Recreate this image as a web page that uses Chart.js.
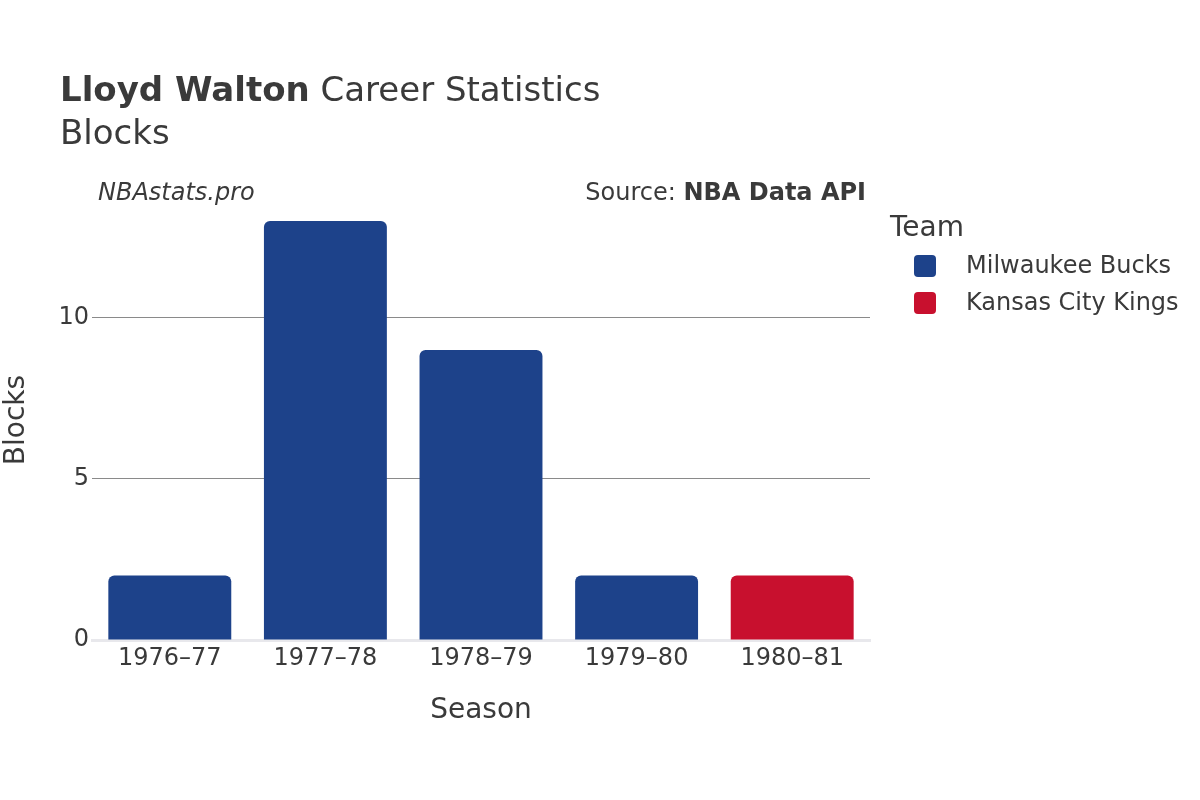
<!DOCTYPE html>
<html>
<head>
<meta charset="utf-8">
<script src="https://cdn.jsdelivr.net/npm/chart.js@4/dist/chart.umd.min.js"></script>
<style>
  html, body { margin: 0; padding: 0; background: #fff; }
  #wrap { width: 1200px; height: 800px; }
</style>
</head>
<body>
<div id="wrap"><canvas id="blocksChart" width="1200" height="800"></canvas></div>
<script>
// Данные графика
const seasons = ['1976–77', '1977–78', '1978–79', '1979–80', '1980–81'];
const teams = ['Milwaukee Bucks', 'Kansas City Kings'];
const bucksBlocks = [2, 13, 9, 2, null];
const kingsBlocks = [null, null, null, null, 2];
const teamColors = ['#1d428a', '#c8102e'];
const yTicks = [0, 5, 10];

const FONT = "'DejaVu Sans', sans-serif";
const TEXT = '#3a3a3a';

// Заголовки, подписи и легенда
const decorPlugin = {
    id: 'decor',
    afterDraw(chart) {
        const ctx = chart.ctx;
        ctx.save();
        ctx.fillStyle = TEXT;
        ctx.textBaseline = 'alphabetic';
        ctx.textAlign = 'left';

        ctx.font = `bold 34px ${FONT}`;
        const bold = 'Lloyd Walton';
        ctx.fillText(bold, 60, 101);
        const w = ctx.measureText(bold).width;
        ctx.font = `34px ${FONT}`;
        ctx.fillText(' Career Statistics', 60 + w, 101);
        ctx.fillText('Blocks', 60, 144);

        ctx.font = `italic 24px ${FONT}`;
        ctx.fillText('NBAstats.pro', 98, 200);

        ctx.textAlign = 'right';
        ctx.font = `bold 24px ${FONT}`;
        const src = 'NBA Data API';
        ctx.fillText(src, 866, 200);
        const sw = ctx.measureText(src).width;
        ctx.font = `24px ${FONT}`;
        ctx.fillText('Source: ', 866 - sw, 200);

        // легенда
        ctx.textAlign = 'left';
        ctx.font = `28px ${FONT}`;
        ctx.fillText('Team', 890, 236);
        ctx.font = `24px ${FONT}`;
        chart.data.datasets.forEach((ds, i) => {
            const cy = 266 + i * 37;
            ctx.fillStyle = ds.backgroundColor;
            ctx.beginPath();
            ctx.roundRect(914, cy - 11, 22, 22, 4);
            ctx.fill();
            ctx.fillStyle = TEXT;
            ctx.textBaseline = 'middle';
            ctx.fillText(ds.label, 966, cy + 1);
        });
        ctx.restore();
    }
};

const makeDataset = (label, data, color) => ({
    label: label,
    data: data,
    backgroundColor: color,
    borderWidth: 0,
    borderRadius: { topLeft: 6, topRight: 6, bottomLeft: 0, bottomRight: 0 },
    borderSkipped: false,
    barPercentage: 0.79,
    categoryPercentage: 1
});

new Chart(document.getElementById('blocksChart'), {
    type: 'bar',
    data: {
        labels: seasons,
        datasets: [
            makeDataset(teams[0], bucksBlocks, teamColors[0]),
            makeDataset(teams[1], kingsBlocks, teamColors[1])
        ]
    },
    options: {
        responsive: false,
        animation: false,
        layout: { padding: { top: 200, right: 330, left: 0, bottom: 0 } },
        plugins: {
            legend: { display: false },
            tooltip: { enabled: false }
        },
        scales: {
            x: {
                stacked: true,
                afterFit(scale) { scale.height = 160; },
                grid: { display: false, drawTicks: false },
                border: { display: true, color: '#e8e8ec', width: 3 },
                ticks: { color: TEXT, font: { family: FONT, size: 24 }, padding: 4, maxRotation: 0 },
                title: {
                    display: true, text: 'Season', color: TEXT,
                    font: { family: FONT, size: 28 }, padding: { bottom: 72 }
                }
            },
            y: {
                stacked: true,
                min: 0,
                max: 13.65,
                afterFit(scale) { scale.width = 92; },
                afterBuildTicks(scale) { scale.ticks = yTicks.map(v => ({ value: v })); },
                grid: {
                    drawTicks: false,
                    color: ctx => ctx.tick && ctx.tick.value === 0 ? 'rgba(0,0,0,0)' : '#8a8a8a',
                    lineWidth: 1
                },
                border: { display: false },
                ticks: { color: TEXT, font: { family: FONT, size: 24 }, padding: 3 },
                title: {
                    display: true, text: 'Blocks', color: TEXT,
                    font: { family: FONT, size: 28 }, padding: { top: 0 }
                }
            }
        }
    },
    plugins: [decorPlugin]
});
</script>
</body>
</html>
